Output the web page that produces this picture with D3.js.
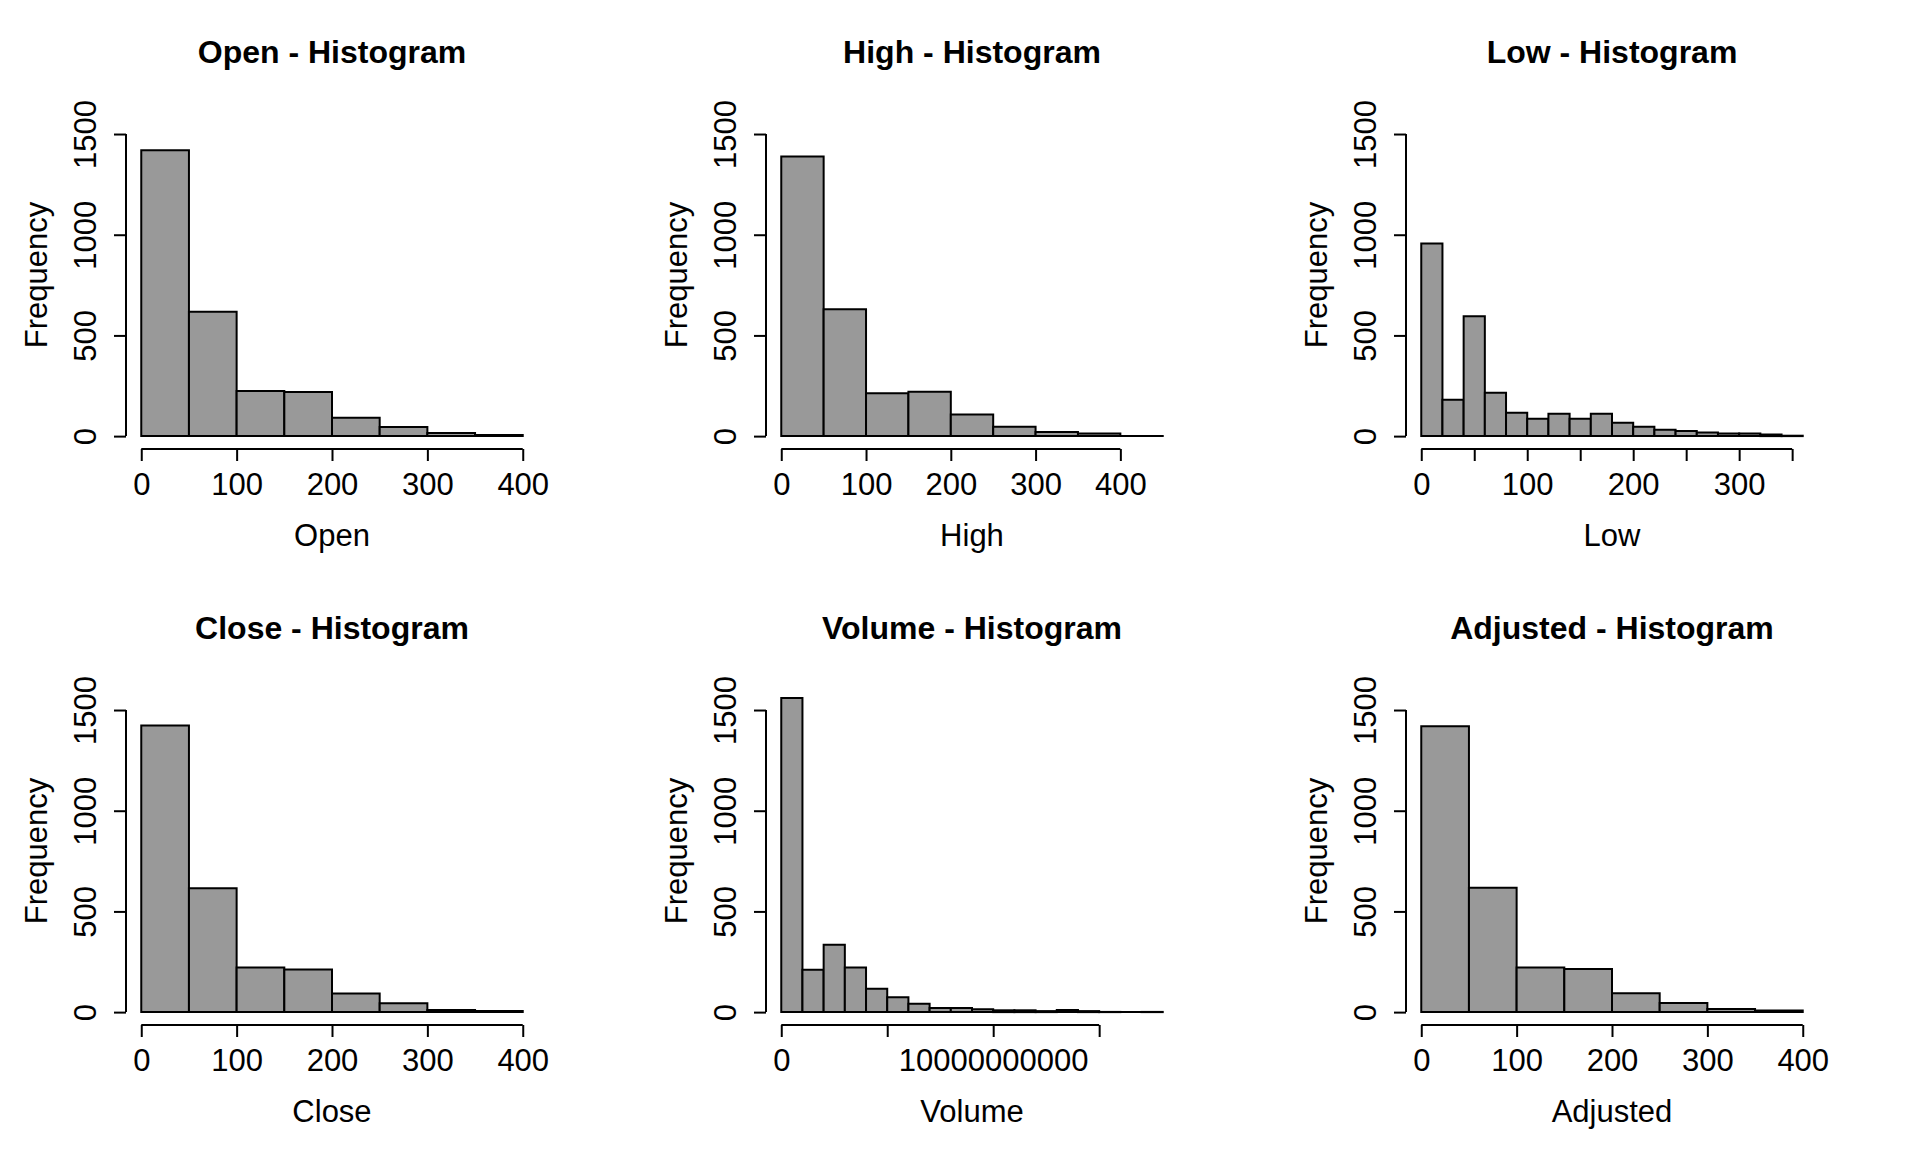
<!DOCTYPE html>
<html>
<head>
<meta charset="utf-8">
<script src="https://cdn.jsdelivr.net/npm/d3@7"></script>
<style>
  html, body { margin: 0; padding: 0; background: #ffffff; }
  text { font-family: "Liberation Sans", Arial, sans-serif; fill: #000000; }
</style>
</head>
<body>
<div id="chart"></div>
<script>
// Histogram data (counts per bin)
const yTicks = [0, 500, 1000, 1500];
const yTickLabels = ["0", "500", "1000", "1500"];

const openBreaks = [0, 50, 100, 150, 200, 250, 300, 350, 400];
const openCounts = [1420, 617, 224, 219, 91, 45, 15, 6];
const openTicks = [0, 100, 200, 300, 400];
const openTickLabels = ["0", "100", "200", "300", "400"];

const highBreaks = [0, 50, 100, 150, 200, 250, 300, 350, 400, 450];
const highCounts = [1389, 630, 213, 220, 107, 46, 21, 13, 1];
const highTicks = [0, 100, 200, 300, 400];
const highTickLabels = ["0", "100", "200", "300", "400"];

const lowBreaks = [0, 20, 40, 60, 80, 100, 120, 140, 160, 180, 200, 220, 240, 260, 280, 300, 320, 340, 360];
const lowCounts = [957, 180, 595, 215, 116, 86, 111, 86, 111, 66, 46, 31, 25, 18, 13, 13, 8, 2];
const lowTicks = [0, 50, 100, 150, 200, 250, 300, 350];
const lowTickLabels = ["0", "", "100", "", "200", "", "300", ""];

const closeBreaks = [0, 50, 100, 150, 200, 250, 300, 350, 400];
const closeCounts = [1423, 615, 221, 212, 93, 44, 11, 5];
const closeTicks = [0, 100, 200, 300, 400];
const closeTickLabels = ["0", "100", "200", "300", "400"];

const volumeBreaks = [0, 1e9, 2e9, 3e9, 4e9, 5e9, 6e9, 7e9, 8e9, 9e9, 1e10, 1.1e10, 1.2e10, 1.3e10, 1.4e10, 1.5e10, 1.6e10, 1.7e10, 1.8e10];
const volumeCounts = [1560, 210, 334, 222, 116, 74, 41, 20, 20, 14, 9, 9, 5, 11, 5, 1, 0, 1];
const volumeTicks = [0, 5e9, 1e10, 1.5e10];
const volumeTickLabels = ["0", "", "10000000000", ""];

const adjustedBreaks = [0, 50, 100, 150, 200, 250, 300, 350, 400];
const adjustedCounts = [1420, 617, 222, 214, 94, 45, 15, 8];
const adjustedTicks = [0, 100, 200, 300, 400];
const adjustedTickLabels = ["0", "100", "200", "300", "400"];

// Layout (2 rows x 3 columns)
const svgWidth = 1920;
const svgHeight = 1152;
const colWidth = 640;
const rowHeight = 576;
const plotLeft = 126;
const plotTop = 101;
const plotWidth = 412;
const plotHeight = 348;
const yLimit = [0, 1600];
const fontSize = 31;

const svg = d3.select("#chart")
    .append("svg")
    .attr("width", svgWidth)
    .attr("height", svgHeight);

function renderHistogram(col, row, name, breaks, counts, ticks, tickLabels) {
    const left = plotLeft + col * colWidth;
    const top = plotTop + row * rowHeight;
    const bottom = top + plotHeight;

    // R style: 4% extension on both ends
    const lo = breaks[0], hi = breaks[breaks.length - 1];
    const padX = 0.04 * (hi - lo);
    const padY = 0.04 * (yLimit[1] - yLimit[0]);

    const xScale = d3.scaleLinear()
        .domain([lo - padX, hi + padX])
        .range([left, left + plotWidth]);

    const yScale = d3.scaleLinear()
        .domain([yLimit[0] - padY, yLimit[1] + padY])
        .range([bottom, top]);

    const g = svg.append("g");

    // staplar (path so that empty bins still show as a line)
    g.selectAll("path.bar")
        .data(counts)
        .enter()
        .append("path")
        .attr("class", "bar")
        .attr("d", (d, i) => {
            const x0 = xScale(breaks[i]), x1 = xScale(breaks[i + 1]);
            const y0 = yScale(0), y1 = yScale(d);
            return `M${x0},${y0}V${y1}H${x1}V${y0}Z`;
        })
        .attr("fill", "#999999")
        .attr("stroke", "#000000")
        .attr("stroke-width", 2)
        .attr("stroke-linejoin", "miter");

    // x-axel
    const xAxisGroup = g.append("g")
        .attr("transform", `translate(0, ${bottom})`)
        .call(d3.axisBottom(xScale)
            .tickValues(ticks)
            .tickSize(12)
            .tickSizeOuter(0)
            .tickFormat((d, i) => tickLabels[i]));
    xAxisGroup.select(".domain").remove();
    xAxisGroup.append("line")
        .attr("x1", xScale(ticks[0]))
        .attr("x2", xScale(ticks[ticks.length - 1]))
        .attr("stroke", "#000000")
        .attr("stroke-width", 2);
    xAxisGroup.selectAll(".tick line").attr("stroke", "#000000").attr("stroke-width", 2);
    xAxisGroup.selectAll(".tick text")
        .attr("y", 45.5)
        .attr("dy", 0)
        .attr("font-size", fontSize)
        .attr("font-family", "Liberation Sans, Arial, sans-serif")
        .attr("fill", "#000000");

    // y-axel
    const yAxisGroup = g.append("g")
        .attr("transform", `translate(${left}, 0)`)
        .call(d3.axisLeft(yScale)
            .tickValues(yTicks)
            .tickSize(12)
            .tickSizeOuter(0)
            .tickFormat((d, i) => yTickLabels[i]));
    yAxisGroup.select(".domain").remove();
    yAxisGroup.append("line")
        .attr("y1", yScale(yTicks[0]))
        .attr("y2", yScale(yTicks[yTicks.length - 1]))
        .attr("stroke", "#000000")
        .attr("stroke-width", 2);
    yAxisGroup.selectAll(".tick line").attr("stroke", "#000000").attr("stroke-width", 2);
    yAxisGroup.selectAll(".tick text")
        .attr("transform", "rotate(-90)")
        .attr("x", 0)
        .attr("y", -29.8)
        .attr("dy", 0)
        .attr("text-anchor", "middle")
        .attr("font-size", fontSize)
        .attr("font-family", "Liberation Sans, Arial, sans-serif")
        .attr("fill", "#000000");

    // titel och axeltitlar
    g.append("text")
        .attr("x", left + plotWidth / 2)
        .attr("y", top - 37.7)
        .attr("text-anchor", "middle")
        .attr("font-size", 32)
        .attr("font-weight", "bold")
        .text(`${name} - Histogram`);

    g.append("text")
        .attr("x", left + plotWidth / 2)
        .attr("y", bottom + 97.2)
        .attr("text-anchor", "middle")
        .attr("font-size", fontSize)
        .text(name);

    g.append("text")
        .attr("transform", `translate(${left - 79.3}, ${top + plotHeight / 2}) rotate(-90)`)
        .attr("text-anchor", "middle")
        .attr("font-size", fontSize)
        .text("Frequency");
}

renderHistogram(0, 0, "Open", openBreaks, openCounts, openTicks, openTickLabels);
renderHistogram(1, 0, "High", highBreaks, highCounts, highTicks, highTickLabels);
renderHistogram(2, 0, "Low", lowBreaks, lowCounts, lowTicks, lowTickLabels);
renderHistogram(0, 1, "Close", closeBreaks, closeCounts, closeTicks, closeTickLabels);
renderHistogram(1, 1, "Volume", volumeBreaks, volumeCounts, volumeTicks, volumeTickLabels);
renderHistogram(2, 1, "Adjusted", adjustedBreaks, adjustedCounts, adjustedTicks, adjustedTickLabels);
</script>
</body>
</html>
